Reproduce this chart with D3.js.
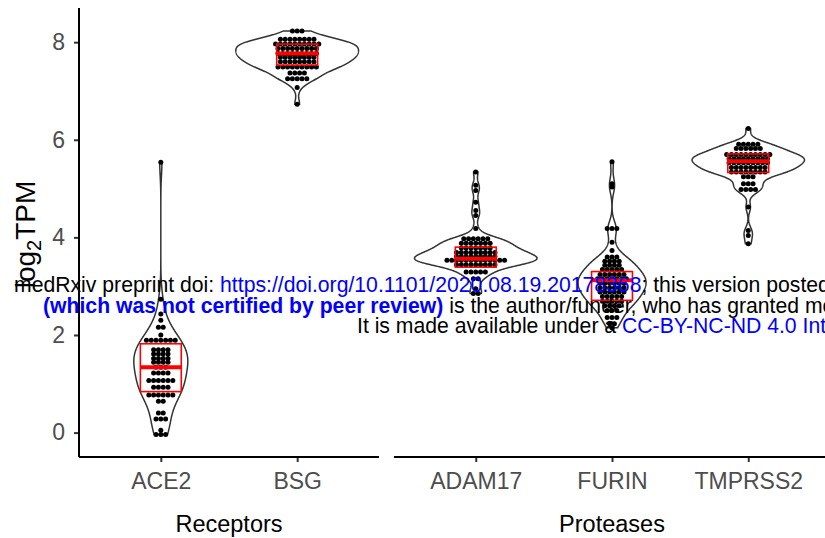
<!DOCTYPE html>
<html>
<head>
<meta charset="utf-8">
<script src="https://cdn.jsdelivr.net/npm/d3@7"></script>
<style>
  body { margin: 0; background: #fff; }
  text { font-family: "Liberation Sans", Arial, sans-serif; }
</style>
</head>
<body>
<div id="chart"></div>
<script>
// categories per panel
const receptors = ["ACE2", "BSG"];
const proteases = ["ADAM17", "FURIN", "TMPRSS2"];

// log2 TPM per sample
const ace2 = [5.54, 2.73, 2.43, 2.30, 2.16, 2.16, 2.00,
  1.89, 1.89, 1.89, 1.89, 1.89, 1.89, 1.89,
  1.70, 1.70, 1.70, 1.70, 1.61, 1.61, 1.61, 1.61,
  1.52, 1.52, 1.52, 1.52, 1.44, 1.44, 1.44, 1.44,
  1.34, 1.34, 1.34, 1.22, 1.22, 1.22, 1.22,
  1.07, 1.07, 1.07, 1.07, 1.07, 1.07, 0.93, 0.93, 0.93, 0.93,
  0.77, 0.77, 0.77, 0.77, 0.77, 0.77, 0.64, 0.64,
  0.40, 0.40, 0.28, 0.28, 0.28, 0.05, -0.04, -0.04, -0.04];

const bsg = [8.23, 8.23, 8.23,
  8.06, 8.06, 8.06, 8.06, 8.06, 8.06, 8.06, 8.06,
  7.96, 7.96, 7.96, 7.96, 7.96, 7.96, 7.96, 7.96, 7.96, 7.96,
  7.87, 7.87, 7.87, 7.87, 7.87, 7.87, 7.87, 7.87, 7.87,
  7.77, 7.77, 7.77, 7.77, 7.77, 7.77, 7.77, 7.77, 7.77,
  7.69, 7.69, 7.69, 7.69, 7.69, 7.69, 7.69, 7.69,
  7.60, 7.60, 7.60, 7.60, 7.60, 7.60, 7.60, 7.60,
  7.49, 7.49, 7.49, 7.49, 7.49, 7.49, 7.49, 7.49, 7.49,
  7.37, 7.37, 7.37, 7.37, 7.25, 7.25, 7.25, 7.25, 7.25,
  7.07, 6.73];

const adam17 = [5.34, 5.07, 4.96, 4.72, 4.55, 4.45, 4.18,
  3.97, 3.97, 3.97, 3.97, 3.97, 3.97,
  3.88, 3.88, 3.88, 3.88, 3.88, 3.88, 3.88,
  3.78, 3.78, 3.78, 3.78, 3.78, 3.78, 3.78,
  3.69, 3.69, 3.69, 3.69, 3.69, 3.69, 3.69, 3.69, 3.69,
  3.61, 3.61, 3.61, 3.61, 3.61, 3.61, 3.61, 3.61, 3.61,
  3.53, 3.53, 3.53, 3.53, 3.53, 3.53, 3.53, 3.53, 3.53, 3.53, 3.53, 3.53, 3.53,
  3.44, 3.44, 3.44, 3.44, 3.44, 3.44, 3.44, 3.44, 3.44,
  3.29, 3.29, 3.29, 3.29, 3.29, 3.15, 3.15, 2.95, 2.85, 2.85];

const furin = [5.55, 5.10, 5.03, 4.18, 4.18, 4.18, 3.90, 3.73,
  3.60, 3.60, 3.60, 3.51, 3.51, 3.51, 3.51, 3.43, 3.43, 3.43, 3.43,
  3.34, 3.34, 3.34, 3.34, 3.34, 3.24, 3.24, 3.24, 3.24, 3.24, 3.24,
  3.15, 3.15, 3.15, 3.15, 3.15, 3.15, 3.15,
  3.06, 3.06, 3.06, 3.06, 3.06, 3.06, 2.97, 2.97, 2.97, 2.97, 2.97, 2.97,
  2.88, 2.88, 2.88, 2.88, 2.88, 2.88, 2.79, 2.79, 2.79, 2.79, 2.79,
  2.69, 2.69, 2.69, 2.69, 2.69, 2.60, 2.60, 2.60, 2.60,
  2.50, 2.50, 2.50, 2.36, 2.36, 2.36, 2.23, 2.23, 2.15];

const tmprss2 = [6.23, 5.91, 5.91, 5.91, 5.91, 5.91,
  5.82, 5.82, 5.82, 5.82, 5.82, 5.82,
  5.70, 5.70, 5.70, 5.70, 5.70, 5.70, 5.70, 5.70, 5.70, 5.70,
  5.61, 5.61, 5.61, 5.61, 5.61, 5.61, 5.61, 5.61, 5.61,
  5.53, 5.53, 5.53, 5.53, 5.53, 5.53, 5.53, 5.53, 5.53,
  5.43, 5.43, 5.43, 5.43, 5.43, 5.43, 5.43, 5.43,
  5.34, 5.34, 5.34, 5.34, 5.34, 5.34, 5.34, 5.34,
  5.24, 5.24, 5.24, 5.10, 5.10, 5.10, 4.98, 4.98, 4.98, 4.98,
  4.62, 4.14, 4.04, 3.87];

// red boxes (no whiskers)
const boxGenes  = ["ACE2", "BSG", "ADAM17", "FURIN", "TMPRSS2"];
const boxQ1     = [0.84, 7.53, 3.39, 2.71, 5.33];
const boxMedian = [1.34, 7.77, 3.56, 3.12, 5.56];
const boxQ3     = [1.82, 7.96, 3.80, 3.30, 5.71];

const yTicks = [0, 2, 4, 6, 8];

const samples = {ACE2: ace2, BSG: bsg, ADAM17: adam17, FURIN: furin, TMPRSS2: tmprss2};

const width = 825, height = 538;
const plotTop = 8, plotBottom = 457;

const svg = d3.select("#chart").append("svg")
  .attr("width", width)
  .attr("height", height);

const y = d3.scaleLinear().domain([-0.5, 8.7]).range([plotBottom, plotTop]);

// one point scale per facet, same step in both
const xLeft = d3.scalePoint().domain(receptors).range([79, 379]).padding(0.6);
const xRight = d3.scalePoint().domain(proteases).range([394, 830]).padding(0.6);
const panels = [
  {scale: xLeft, genes: receptors, title: "Receptors"},
  {scale: xRight, genes: proteases, title: "Proteases"}
];

// gaussian density, bandwidth like R's nrd0, trimmed to data range
function kde(vals) {
  const s = vals.slice().sort(d3.ascending);
  const n = s.length;
  const sd = d3.deviation(s);
  const iqr = d3.quantile(s, 0.75) - d3.quantile(s, 0.25);
  const bw = 0.9 * Math.min(sd, iqr / 1.34) * Math.pow(n, -0.2);
  const lo = s[0], hi = s[n - 1];
  const pts = d3.range(0, 301).map(i => lo + (hi - lo) * i / 300);
  return pts.map(v => ({
    v: v,
    d: d3.sum(s, x => Math.exp(-0.5 * ((v - x) / bw) ** 2)) / (n * bw * Math.sqrt(2 * Math.PI))
  }));
}

const dotStep = 4.8, dotR = 2.5;

panels.forEach(p => {
  const step = p.scale.step();
  const halfMax = 0.45 * step;
  const dens = p.genes.map(g => ({gene: g, curve: kde(samples[g])}));
  const maxD = d3.max(dens, g => d3.max(g.curve, c => c.d));

  // violins
  dens.forEach(g => {
    const cx = p.scale(g.gene);
    const area = d3.area()
      .y(c => y(c.v))
      .x0(c => cx - c.d / maxD * halfMax)
      .x1(c => cx + c.d / maxD * halfMax);
    svg.append("path")
      .datum(g.curve)
      .attr("d", area)
      .attr("fill", "white")
      .attr("stroke", "#333")
      .attr("stroke-width", 1.5);
  });

  // dots, centred stacks per value
  p.genes.forEach(g => {
    const cx = p.scale(g);
    const rows = d3.rollups(samples[g], v => v.length, d => d);
    const dots = [];
    rows.forEach(([v, n]) => {
      for (let i = 0; i < n; i++) dots.push({x: cx + (i - (n - 1) / 2) * dotStep, v: v});
    });
    svg.append("g").selectAll("circle")
      .data(dots)
      .enter()
      .append("circle")
        .attr("cx", d => d.x)
        .attr("cy", d => y(d.v))
        .attr("r", dotR)
        .attr("fill", "black");
  });

  // boxes
  p.genes.forEach(g => {
    const i = boxGenes.indexOf(g);
    const cx = p.scale(g), bw = 0.3 * step;
    svg.append("rect")
      .attr("x", cx - bw / 2)
      .attr("y", y(boxQ3[i]))
      .attr("width", bw)
      .attr("height", y(boxQ1[i]) - y(boxQ3[i]))
      .attr("fill", "none")
      .attr("stroke", "red")
      .attr("stroke-width", 1.6);
    svg.append("line")
      .attr("x1", cx - bw / 2).attr("x2", cx + bw / 2)
      .attr("y1", y(boxMedian[i])).attr("y2", y(boxMedian[i]))
      .attr("stroke", "red")
      .attr("stroke-width", 4);
  });

  // x axis of the facet
  const r = p.scale.range();
  const ax = svg.append("g")
    .attr("transform", "translate(0," + plotBottom + ")")
    .call(d3.axisBottom(p.scale).tickSize(5).tickPadding(11));
  ax.select(".domain").remove();
  ax.selectAll(".tick line").attr("stroke", "#333").attr("stroke-width", 2);
  ax.selectAll(".tick text")
    .attr("fill", "#4d4d4d")
    .style("font-size", "23px")
    .style("font-family", "'Liberation Sans', Arial, sans-serif");
  svg.append("line")
    .attr("x1", r[0]).attr("x2", r[1])
    .attr("y1", plotBottom).attr("y2", plotBottom)
    .attr("stroke", "black").attr("stroke-width", 2);

  svg.append("text")
    .attr("x", (r[0] + r[1]) / 2)
    .attr("y", 532)
    .attr("text-anchor", "middle")
    .style("font-size", "23.5px")
    .attr("fill", "black")
    .text(p.title);
});

// y axis (left panel only)
const ay = svg.append("g")
  .attr("transform", "translate(79,0)")
  .call(d3.axisLeft(y).tickValues(yTicks).tickSize(5).tickPadding(9));
ay.select(".domain").remove();
ay.selectAll(".tick line").attr("stroke", "#333").attr("stroke-width", 2);
ay.selectAll(".tick text")
  .attr("fill", "#4d4d4d")
  .style("font-size", "23px")
  .style("font-family", "'Liberation Sans', Arial, sans-serif");
svg.append("line")
  .attr("x1", 79).attr("x2", 79)
  .attr("y1", plotTop).attr("y2", plotBottom)
  .attr("stroke", "black").attr("stroke-width", 2);

// y title with subscript
const yt = svg.append("text")
  .attr("transform", "translate(35," + ((plotTop + plotBottom) / 2 + 2) + ") rotate(-90)")
  .attr("text-anchor", "middle")
  .style("font-size", "28px")
  .attr("fill", "black");
yt.append("tspan").text("log");
yt.append("tspan").attr("dy", 6).style("font-size", "20px").text("2");
yt.append("tspan").attr("dy", -6).text("TPM");

// medRxiv watermark lines
const wm = svg.append("g").style("font-size", "21.2px");
const l1 = wm.append("text").attr("x", 14).attr("y", 292);
l1.append("tspan").attr("fill", "black").text("medRxiv preprint doi: ");
l1.append("tspan").attr("fill", "#0000ff").text("https://doi.org/10.1101/2020.08.19.20178368");
l1.append("tspan").attr("fill", "black").text("; this version posted August 21, 2020. The copyright holder for this preprint");
const l2 = wm.append("text").attr("x", 43).attr("y", 312.5);
l2.append("tspan").attr("fill", "#0000ff").attr("font-weight", "bold").text("(which was not certified by peer review)");
l2.append("tspan").attr("fill", "black").text(" is the author/funder, who has granted medRxiv a license to display the preprint in perpetuity.");
const l3 = wm.append("text").attr("x", 357).attr("y", 333);
l3.append("tspan").attr("fill", "black").text("It is made available under a ");
l3.append("tspan").attr("fill", "#0000ff").text("CC-BY-NC-ND 4.0 International license");
</script>
</body>
</html>
